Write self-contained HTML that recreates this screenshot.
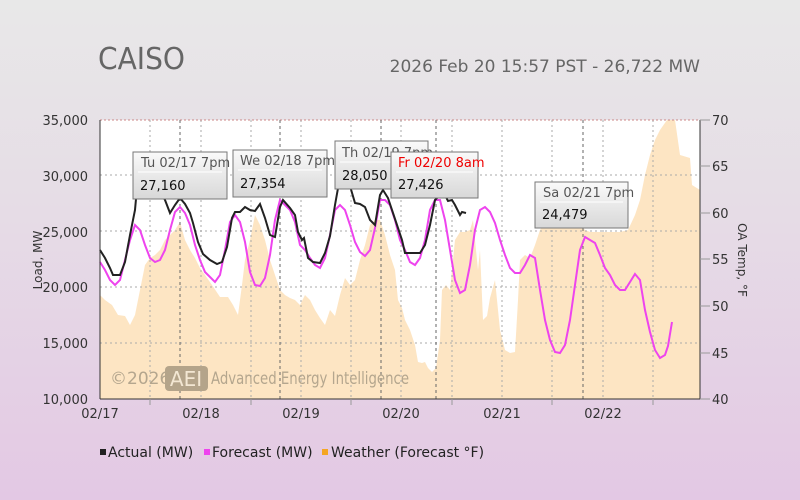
<!DOCTYPE html><html><head><style>
html,body{margin:0;width:800px;height:500px;overflow:hidden;background:#e3c8e4}
svg{display:block}
</style></head><body>
<svg width="800" height="500" xmlns="http://www.w3.org/2000/svg" font-family="DejaVu Sans, Liberation Sans, sans-serif">
<defs><linearGradient id="tg" x1="0" y1="0" x2="0" y2="1"><stop offset="0" stop-color="#fafafa"/><stop offset="1" stop-color="#d8d8d8"/></linearGradient>
<linearGradient id="bg" x1="0" y1="0" x2="0" y2="1"><stop offset="0" stop-color="#e8e8e8"/><stop offset="0.4" stop-color="#e6dde6"/><stop offset="1" stop-color="#e3c8e4"/></linearGradient></defs>
<rect width="800" height="500" fill="url(#bg)"/>
<text x="98" y="69" font-size="30" fill="#666" textLength="87" lengthAdjust="spacingAndGlyphs">CAISO</text>
<text x="700" y="72" font-size="17" fill="#666" text-anchor="end">2026 Feb 20 15:57 PST - 26,722 MW</text>
<rect x="100" y="120" width="600" height="279" fill="#fff"/>
<polygon fill="#fde5c3" points="100,399 100,295 105,300 112,305 118,315 125,316 130,325 135,315 140,290 145,265 150,258 155,255 160,250 165,240 170,235 175,230 180,222 185,240 190,250 195,258 200,268 205,275 212,285 220,297 228,297 233,305 238,315 242,285 245,260 250,240 255,215 260,225 265,240 270,260 275,275 280,290 285,295 290,298 295,300 300,305 305,295 310,300 315,310 320,318 325,325 330,310 335,316 340,295 345,278 350,285 355,280 360,260 365,245 370,225 375,220 380,220 385,235 390,255 395,270 398,300 402,308 405,320 410,330 415,345 418,362 422,363 425,362 428,368 432,372 436,368 440,340 442,290 446,285 450,290 455,240 460,232 465,232 470,230 473,220 476,250 478,270 480,250 483,320 487,316 490,298 495,280 500,330 505,350 510,353 515,352 518,300 520,260 525,255 530,258 535,245 540,230 545,222 550,205 555,195 560,200 565,205 570,220 575,225 580,225 585,230 590,232 600,232 610,232 620,232 628,230 635,215 640,200 645,175 650,155 655,140 660,130 667,120 675,120 680,155 690,158 692,185 700,190 700,399"/>
<g stroke="#aaa" stroke-dasharray="2,3" stroke-width="1">
<line x1="100" y1="175" x2="700" y2="175"/><line x1="100" y1="231" x2="700" y2="231"/><line x1="100" y1="287" x2="700" y2="287"/><line x1="100" y1="343" x2="700" y2="343"/>
<line x1="150" y1="120" x2="150" y2="399"/><line x1="201" y1="120" x2="201" y2="399"/><line x1="251" y1="120" x2="251" y2="399"/><line x1="301" y1="120" x2="301" y2="399"/><line x1="351" y1="120" x2="351" y2="399"/><line x1="401" y1="120" x2="401" y2="399"/><line x1="452" y1="120" x2="452" y2="399"/><line x1="502" y1="120" x2="502" y2="399"/><line x1="552" y1="120" x2="552" y2="399"/><line x1="603" y1="120" x2="603" y2="399"/><line x1="653" y1="120" x2="653" y2="399"/>
</g>
<line x1="100" y1="120" x2="700" y2="120" stroke="#c88" stroke-dasharray="2,2"/>
<g stroke="#666" stroke-dasharray="3,3"><line x1="180" y1="120" x2="180" y2="399"/><line x1="280" y1="120" x2="280" y2="399"/><line x1="381" y1="120" x2="381" y2="399"/><line x1="436" y1="120" x2="436" y2="399"/><line x1="583" y1="120" x2="583" y2="399"/></g>
<text x="110" y="384" font-size="17" fill="#b4a68e">©2026</text>
<rect x="165" y="366" width="43" height="25" rx="4" fill="#b4a48a"/>
<text x="186" y="386" font-size="20" fill="#f3e7d3" text-anchor="middle">AEI</text>
<text x="211" y="384" font-size="17" fill="#b4a68e" textLength="198" lengthAdjust="spacingAndGlyphs">Advanced Energy Intelligence</text>
<polyline fill="none" stroke="#ee44ee" stroke-width="2" points="100,262 105,270 110,280 115,285 120,280 125,260 130,240 135,225 140,230 145,245 150,258 155,262 160,260 165,250 170,230 175,212 180,207 185,213 190,225 195,245 200,260 205,272 210,277 215,282 220,275 225,250 230,222 235,215 240,222 245,242 250,272 255,285 260,286 265,278 270,255 275,220 280,200 285,205 290,210 295,222 300,245 305,250 310,258 315,265 320,268 325,258 330,235 335,210 340,205 345,210 350,225 355,242 360,252 365,256 370,250 375,228 380,200 385,200 390,205 395,220 400,240 405,250 410,262 415,265 420,258 425,240 430,210 435,200 440,200 445,220 450,250 455,280 460,293 465,290 470,265 475,230 480,210 485,207 490,212 495,223 500,240 505,255 510,268 515,273 520,273 525,265 530,255 535,258 540,290 545,320 550,340 555,352 560,353 565,345 570,320 575,285 580,250 585,237 590,240 595,243 600,255 605,268 610,275 615,285 620,290 625,290 630,282 635,274 640,280 645,310 650,332 655,350 660,358 665,355 668,346 672,322"/>
<polyline fill="none" stroke="#222" stroke-width="2" points="100,250 105,258 110,268 113,275 120,275 125,262 130,235 135,210 138,177 142,176 147,175 150,172 155,178 160,192 165,200 170,213 175,205 180,198 185,204 190,213 193,223 198,242 203,254 210,260 217,264 222,262 227,247 232,218 235,212 240,212 245,207 250,210 255,211 260,204 265,218 270,235 275,237 280,207 283,200 290,208 295,215 298,232 302,240 304,238 308,258 313,262 320,263 325,253 330,236 335,205 340,177 345,178 350,186 355,203 360,204 365,207 370,220 375,225 380,195 383,190 388,198 393,213 397,225 402,240 405,253 412,253 420,253 425,245 430,225 435,200 440,195 444,193 448,201 452,200 455,205 460,215 462,212 466,213"/>
<line x1="100" y1="120" x2="100" y2="399" stroke="#333"/>
<line x1="100" y1="399" x2="700" y2="399" stroke="#333"/>
<line x1="700" y1="120" x2="700" y2="399" stroke="#333"/>
<g stroke="#999"><line x1="700" y1="120" x2="710" y2="120"/><line x1="700" y1="166" x2="710" y2="166"/><line x1="700" y1="213" x2="710" y2="213"/><line x1="700" y1="259" x2="710" y2="259"/><line x1="700" y1="306" x2="710" y2="306"/><line x1="700" y1="353" x2="710" y2="353"/><line x1="700" y1="399" x2="710" y2="399"/>
<line x1="150" y1="399" x2="150" y2="405"/><line x1="251" y1="399" x2="251" y2="405"/><line x1="351" y1="399" x2="351" y2="405"/><line x1="452" y1="399" x2="452" y2="405"/><line x1="552" y1="399" x2="552" y2="405"/><line x1="653" y1="399" x2="653" y2="405"/></g>
<g font-size="13" fill="#333" text-anchor="end"><text x="88" y="125">35,000</text><text x="88" y="181">30,000</text><text x="88" y="237">25,000</text><text x="88" y="292">20,000</text><text x="88" y="348">15,000</text><text x="88" y="404">10,000</text></g>
<g font-size="13" fill="#333"><text x="712" y="125">70</text><text x="712" y="171">65</text><text x="712" y="218">60</text><text x="712" y="264">55</text><text x="712" y="311">50</text><text x="712" y="358">45</text><text x="712" y="404">40</text></g>
<g font-size="13" fill="#333" text-anchor="middle"><text x="100" y="418">02/17</text><text x="201" y="418">02/18</text><text x="301" y="418">02/19</text><text x="401" y="418">02/20</text><text x="502" y="418">02/21</text><text x="603" y="418">02/22</text></g>
<text transform="translate(42,260) rotate(-90)" font-size="12" fill="#333" text-anchor="middle">Load, MW</text>
<text transform="translate(738,260) rotate(90)" font-size="12" fill="#333" text-anchor="middle">OA Temp, °F</text>
<g font-size="13">
<g><rect x="133" y="152" width="94" height="47" fill="url(#tg)" stroke="#777"/><line x1="138" y1="172" x2="222" y2="172" stroke="#fff"/><text x="141" y="167" fill="#555">Tu 02/17 7pm</text><text x="140" y="190" fill="#111">27,160</text></g>
<g><rect x="233" y="150" width="94" height="47" fill="url(#tg)" stroke="#777"/><line x1="238" y1="170" x2="322" y2="170" stroke="#fff"/><text x="240" y="165" fill="#555">We 02/18 7pm</text><text x="240" y="188" fill="#111">27,354</text></g>
<g><rect x="335" y="141" width="93" height="48" fill="url(#tg)" stroke="#777"/><line x1="340" y1="162" x2="423" y2="162" stroke="#fff"/><text x="342" y="157" fill="#555">Th 02/19 7pm</text><text x="342" y="180" fill="#111">28,050</text></g>
<g><rect x="391" y="152" width="87" height="46" fill="url(#tg)" stroke="#777"/><line x1="396" y1="172" x2="473" y2="172" stroke="#fff"/><text x="398" y="167" fill="#e00">Fr 02/20 8am</text><text x="398" y="189" fill="#111">27,426</text></g>
<g><rect x="535" y="182" width="93" height="46" fill="url(#tg)" stroke="#777"/><line x1="540" y1="202" x2="623" y2="202" stroke="#fff"/><text x="543" y="197" fill="#555">Sa 02/21 7pm</text><text x="542" y="219" fill="#111">24,479</text></g>
</g>
<g font-size="14" fill="#222">
<rect x="100" y="449" width="6" height="6" fill="#222"/><text x="108" y="457">Actual (MW)</text>
<rect x="204" y="449" width="6" height="6" fill="#ee44ee"/><text x="212" y="457">Forecast (MW)</text>
<rect x="322" y="449" width="6" height="6" fill="#f5a623"/><text x="331" y="457">Weather (Forecast °F)</text>
</g>
</svg></body></html>
